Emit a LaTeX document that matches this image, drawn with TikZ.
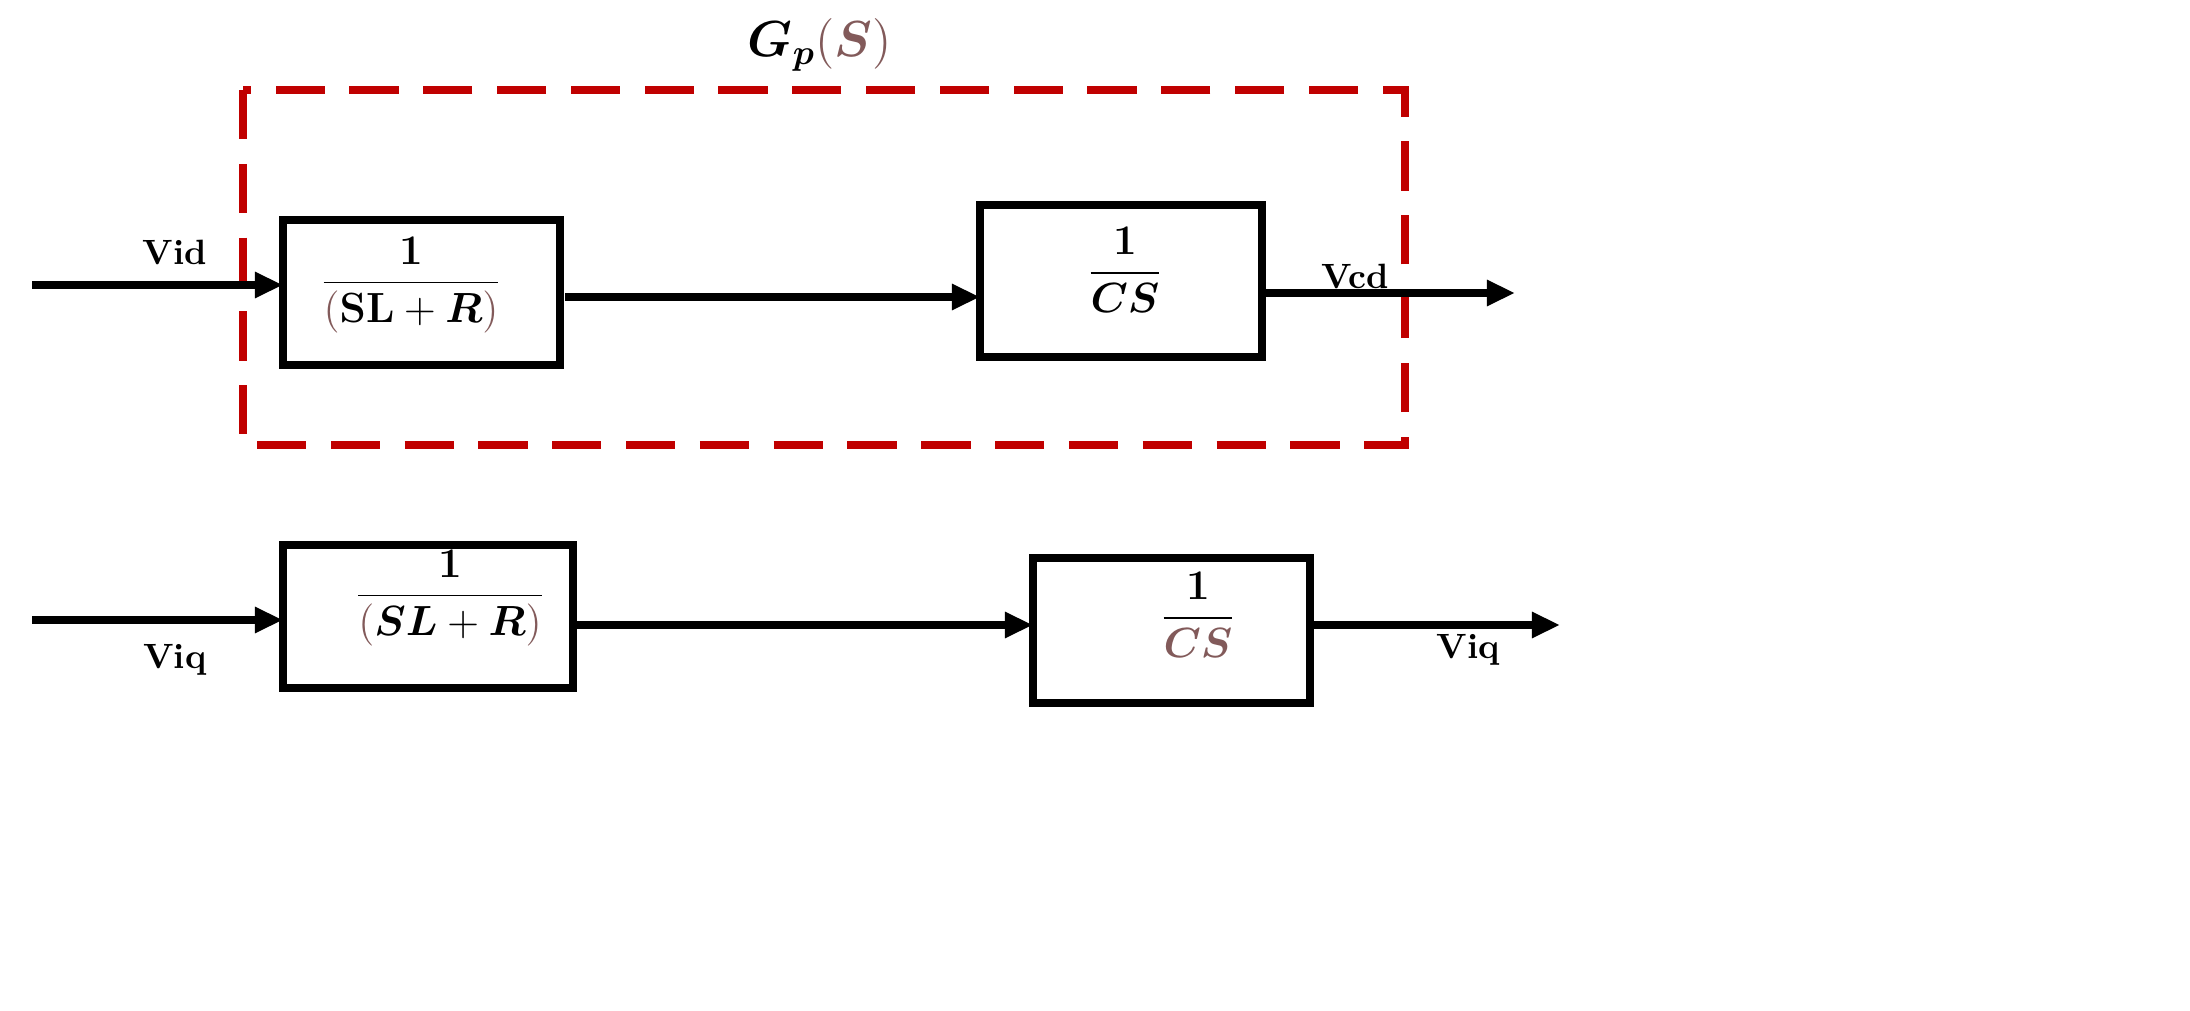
\documentclass[tikz,border=0pt]{standalone}
\usepackage{amsmath,bm}
\usetikzlibrary{arrows.meta}
\definecolor{dred}{RGB}{192,0,0}
\definecolor{brn}{RGB}{130,90,90}
\begin{document}
\begin{tikzpicture}[x=1cm,y=-1cm,
  blk/.style={draw,line width=2pt},
  arr/.style={line width=2pt,-{Triangle[length=8pt,width=7pt]}},
  lbl/.style={font=\bfseries\normalsize},
  frac/.style={font=\large}]
\useasboundingbox (0,0) rectangle (21.90,10.11);
\draw[dred,line width=2.5pt,dash pattern=on 14pt off 7pt] (2.43,0.90) rectangle (14.05,4.45);
\node[font=\Large] (gp) at (8.20,0.45) {$\bm{G_p}\color{brn}{(}\bm{S}\color{brn}{)}$};
% boxes
\draw[blk] (2.83,2.20) rectangle (5.60,3.65);
\coordinate (b1w) at (2.83,2.85); \coordinate (b1e) at (5.65,2.97);
\node[frac] (f1) at (4.11,2.85) {$\dfrac{\mathbf 1}{\color{brn}(\color{black}\mathbf{SL}+\bm{R}\color{brn})}$};
\draw[blk] (9.80,2.05) rectangle (12.62,3.57);
\coordinate (b2w) at (9.80,2.97); \coordinate (b2e) at (12.62,2.93);
\node[frac] (f2) at (11.25,2.70) {$\dfrac{\mathbf 1}{\bm{CS}}$};
\draw[blk] (2.83,5.45) rectangle (5.73,6.88);
\coordinate (b3w) at (2.83,6.20); \coordinate (b3e) at (5.75,6.25);
\node[frac] (f3) at (4.50,5.98) {$\dfrac{\mathbf 1}{\color{brn}(\color{black}\bm{SL}+\bm{R}\color{brn})}$};
\draw[blk] (10.33,5.58) rectangle (13.10,7.03);
\coordinate (b4w) at (10.33,6.25); \coordinate (b4e) at (13.10,6.25);
\node[frac] (f4) at (11.98,6.15) {$\dfrac{\mathbf 1}{\color{brn}\bm{CS}}$};
% arrows
\coordinate (in1) at (0.32,2.85); \coordinate (out1) at (15.15,2.93);
\coordinate (in2) at (0.32,6.20); \coordinate (out2) at (15.60,6.25);
\draw[arr] (in1) -- (b1w);
\draw[arr] (b1e) -- (b2w);
\draw[arr] (b2e) -- (out1);
\draw[arr] (in2) -- (b3w);
\draw[arr] (b3e) -- (b4w);
\draw[arr] (b4e) -- (out2);
% labels
\node[lbl] (vid) at (1.75,2.52) {Vid};
\node[lbl] (vcd) at (13.55,2.76) {Vcd};
\node[lbl] (viq1) at (1.75,6.60) {Viq};
\node[lbl] (viq2) at (14.68,6.50) {Viq};
\end{tikzpicture}
\end{document}
